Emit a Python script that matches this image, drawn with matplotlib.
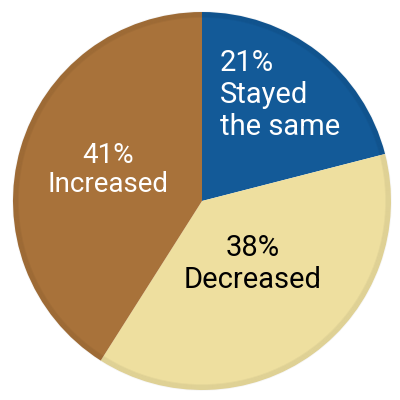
import matplotlib
matplotlib.use("Agg")
import matplotlib.pyplot as plt

# Share of respondents
labels = ["Stayed\nthe same", "Decreased", "Increased"]
shares = [21, 38, 41]
colors = ["#135a98", "#eedf9f", "#a8723a"]
text_colors = ["white", "black", "white"]

plt.rcParams["font.family"] = ["Roboto", "DejaVu Sans"]

fig = plt.figure(figsize=(4, 4), dpi=100)
ax = fig.add_axes([0, 0, 1, 1])

wedges, _ = ax.pie(shares, colors=colors, startangle=90, counterclock=False,
                   center=(202, 199), radius=189, frame=True,
                   wedgeprops=dict(linewidth=0))
ax.set_xlim(0, 400)
ax.set_ylim(0, 400)
ax.set_aspect("equal")
ax.axis("off")

# soft darker rim for the rounded look
for i in range(6):
    ring = plt.Circle((202, 199), 189 - i, fill=False, color="#000000",
                      alpha=0.035, linewidth=1.2)
    ax.add_patch(ring)

ax.text(220, 305, f"{shares[0]}%\n{labels[0]}", color=text_colors[0],
        fontsize=21, ha="left", va="center", linespacing=1.18)
ax.text(253, 136, f"{shares[1]}%\n{labels[1]}", color=text_colors[1],
        fontsize=21, ha="center", va="center", linespacing=1.22)
ax.text(108, 230, f"{shares[2]}%\n{labels[2]}", color=text_colors[2],
        fontsize=20, ha="center", va="center", linespacing=1.1)

fig.savefig("out.png", dpi=100, facecolor="white")
